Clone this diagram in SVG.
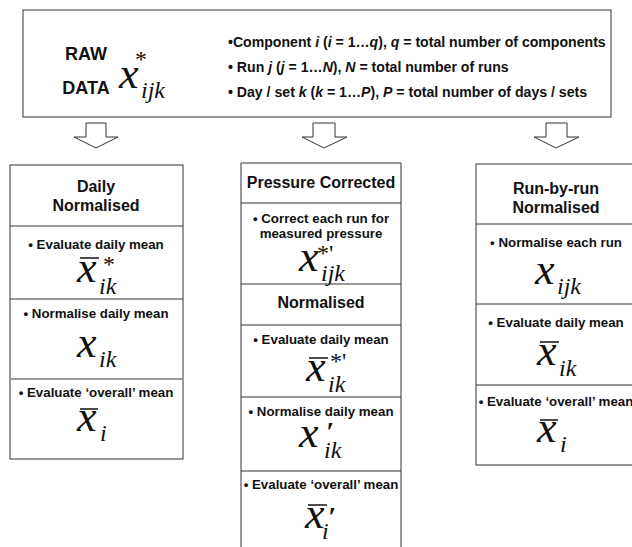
<svg xmlns="http://www.w3.org/2000/svg" width="632" height="547" viewBox="0 0 632 547">
<style>
.box{fill:#fff;stroke:#333;stroke-width:1}
.div{stroke:#333;stroke-width:1}
.hd{font-family:"Liberation Sans",Arial,sans-serif;font-weight:bold;font-size:16px;fill:#111;text-anchor:middle}
.raw{font-family:"Liberation Sans",Arial,sans-serif;font-weight:bold;font-size:18px;fill:#111;text-anchor:middle}
.bl{font-family:"Liberation Sans",Arial,sans-serif;font-weight:bold;font-size:13.3px;fill:#111;text-anchor:middle}
.tb{font-family:"Liberation Sans",Arial,sans-serif;font-weight:bold;font-size:14.1px;fill:#111}
.m{font-family:"Liberation Serif","Times New Roman",serif;fill:#111}
.mx{font-style:italic;font-size:44px}
.ms{font-style:italic;font-size:24px}
.ma{font-style:normal;font-size:24px}
.pr{font-style:italic;font-weight:bold;font-size:28px}
.bar{stroke:#111;stroke-width:1.5}
.arr{fill:#fff;stroke:#333;stroke-width:1}
</style>

<g id="raw-data">
<rect class="box" x="23" y="10" width="588" height="107"/>
<text class="raw" x="86" y="60">RAW</text>
<text class="raw" x="86" y="94">DATA</text>
<text class="m"><tspan class="mx" x="119" y="88">x</tspan><tspan class="ms" x="141" y="98">ijk</tspan><tspan class="ma" x="135" y="67">*</tspan></text>
<text class="tb" x="228" y="47">•Component <tspan font-style="italic">i</tspan> (<tspan font-style="italic">i</tspan> = 1…<tspan font-style="italic">q</tspan>), <tspan font-style="italic">q</tspan> = total number of components</text>
<text class="tb" x="228" y="72">• Run <tspan font-style="italic">j</tspan> (<tspan font-style="italic">j</tspan> = 1…<tspan font-style="italic">N</tspan>), <tspan font-style="italic">N</tspan> = total number of runs</text>
<text class="tb" x="228" y="97">• Day / set <tspan font-style="italic">k</tspan> (<tspan font-style="italic">k</tspan> = 1…<tspan font-style="italic">P</tspan>), <tspan font-style="italic">P</tspan> = total number of days / sets</text>
</g>

<g id="connectors">
<path class="arr" d="M86,123 H106 V137 H118 L96,148 L74,137 H86 Z"/>
<path class="arr" d="M313,123 H335 V137 H347 L324,148 L302,137 H313 Z"/>
<path class="arr" d="M546,123 H567 V137 H579 L556,148 L534,137 H546 Z"/>
</g>

<g id="daily-normalised">
<rect class="box" x="10" y="165" width="173" height="294"/>
<text class="hd" x="96" y="192">Daily</text>
<text class="hd" x="96" y="211">Normalised</text>
<line class="div" x1="10" y1="226" x2="183" y2="226"/>
<text class="bl" x="96" y="249">• Evaluate daily mean</text>
<line class="bar" x1="80" y1="258" x2="99" y2="258"/>
<text class="m"><tspan class="mx" x="77" y="282">x</tspan><tspan class="ms" x="99" y="294">ik</tspan><tspan class="ma" x="103" y="272">*</tspan></text>
<line class="div" x1="10" y1="299" x2="183" y2="299"/>
<text class="bl" x="96" y="318">• Normalise daily mean</text>
<text class="m"><tspan class="mx" x="77" y="357">x</tspan><tspan class="ms" x="99" y="367">ik</tspan></text>
<line x1="10" y1="379" x2="183" y2="379" stroke="#999" stroke-width="2"/>
<text class="bl" x="96" y="397">• Evaluate ‘overall’ mean</text>
<line class="bar" x1="80" y1="409" x2="98" y2="409"/>
<text class="m"><tspan class="mx" x="77" y="431">x</tspan><tspan class="ms" x="100" y="441">i</tspan></text>
</g>

<g id="pressure-corrected">
<path class="box" d="M241,547 V163 H401 V547"/>
<text class="hd" x="321" y="188">Pressure Corrected</text>
<line class="div" x1="241" y1="203" x2="401" y2="203"/>
<text class="bl" x="321" y="223">• Correct  each run for</text>
<text class="bl" x="321" y="238">measured pressure</text>
<text class="m"><tspan class="mx" x="299" y="271">x</tspan><tspan class="ms" x="321" y="281">ijk</tspan><tspan class="ma" x="317" y="261">*'</tspan></text>
<line class="div" x1="241" y1="284" x2="401" y2="284"/>
<text class="hd" x="321" y="308">Normalised</text>
<line class="div" x1="241" y1="325" x2="401" y2="325"/>
<text class="bl" x="321" y="344">• Evaluate daily mean</text>
<line class="bar" x1="309" y1="358" x2="328" y2="358"/>
<text class="m"><tspan class="mx" x="306" y="381">x</tspan><tspan class="ms" x="328" y="392">ik</tspan><tspan class="ma" x="330" y="369">*'</tspan></text>
<line class="div" x1="241" y1="397" x2="401" y2="397"/>
<text class="bl" x="321" y="416">• Normalise daily mean</text>
<text class="m"><tspan class="mx" x="299" y="447">x</tspan><tspan class="ms" x="324" y="458">ik</tspan><tspan class="pr" x="326" y="441">′</tspan></text>
<line class="div" x1="241" y1="471" x2="401" y2="471"/>
<text class="bl" x="321" y="489">• Evaluate ‘overall’ mean</text>
<line class="bar" x1="308" y1="505" x2="327" y2="505"/>
<text class="m"><tspan class="mx" x="305" y="528">x</tspan><tspan class="ms" x="322" y="539">i</tspan><tspan class="pr" x="328" y="526">′</tspan></text>
</g>

<g id="run-by-run">
<rect class="box" x="476" y="164" width="170" height="301"/>
<text class="hd" x="556" y="194">Run-by-run</text>
<text class="hd" x="556" y="213">Normalised</text>
<line class="div" x1="476" y1="224" x2="646" y2="224"/>
<text class="bl" x="556" y="247">• Normalise each run</text>
<text class="m"><tspan class="mx" x="535" y="284">x</tspan><tspan class="ms" x="557" y="294">ijk</tspan></text>
<line class="div" x1="476" y1="304" x2="646" y2="304"/>
<text class="bl" x="556" y="327">• Evaluate daily mean</text>
<line class="bar" x1="540" y1="342" x2="559" y2="342"/>
<text class="m"><tspan class="mx" x="537" y="365">x</tspan><tspan class="ms" x="559" y="376">ik</tspan></text>
<line class="div" x1="476" y1="385" x2="646" y2="385"/>
<text class="bl" x="556" y="406">• Evaluate ‘overall’ mean</text>
<line class="bar" x1="540" y1="420" x2="558" y2="420"/>
<text class="m"><tspan class="mx" x="537" y="442">x</tspan><tspan class="ms" x="560" y="452">i</tspan></text>
</g>
</svg>
